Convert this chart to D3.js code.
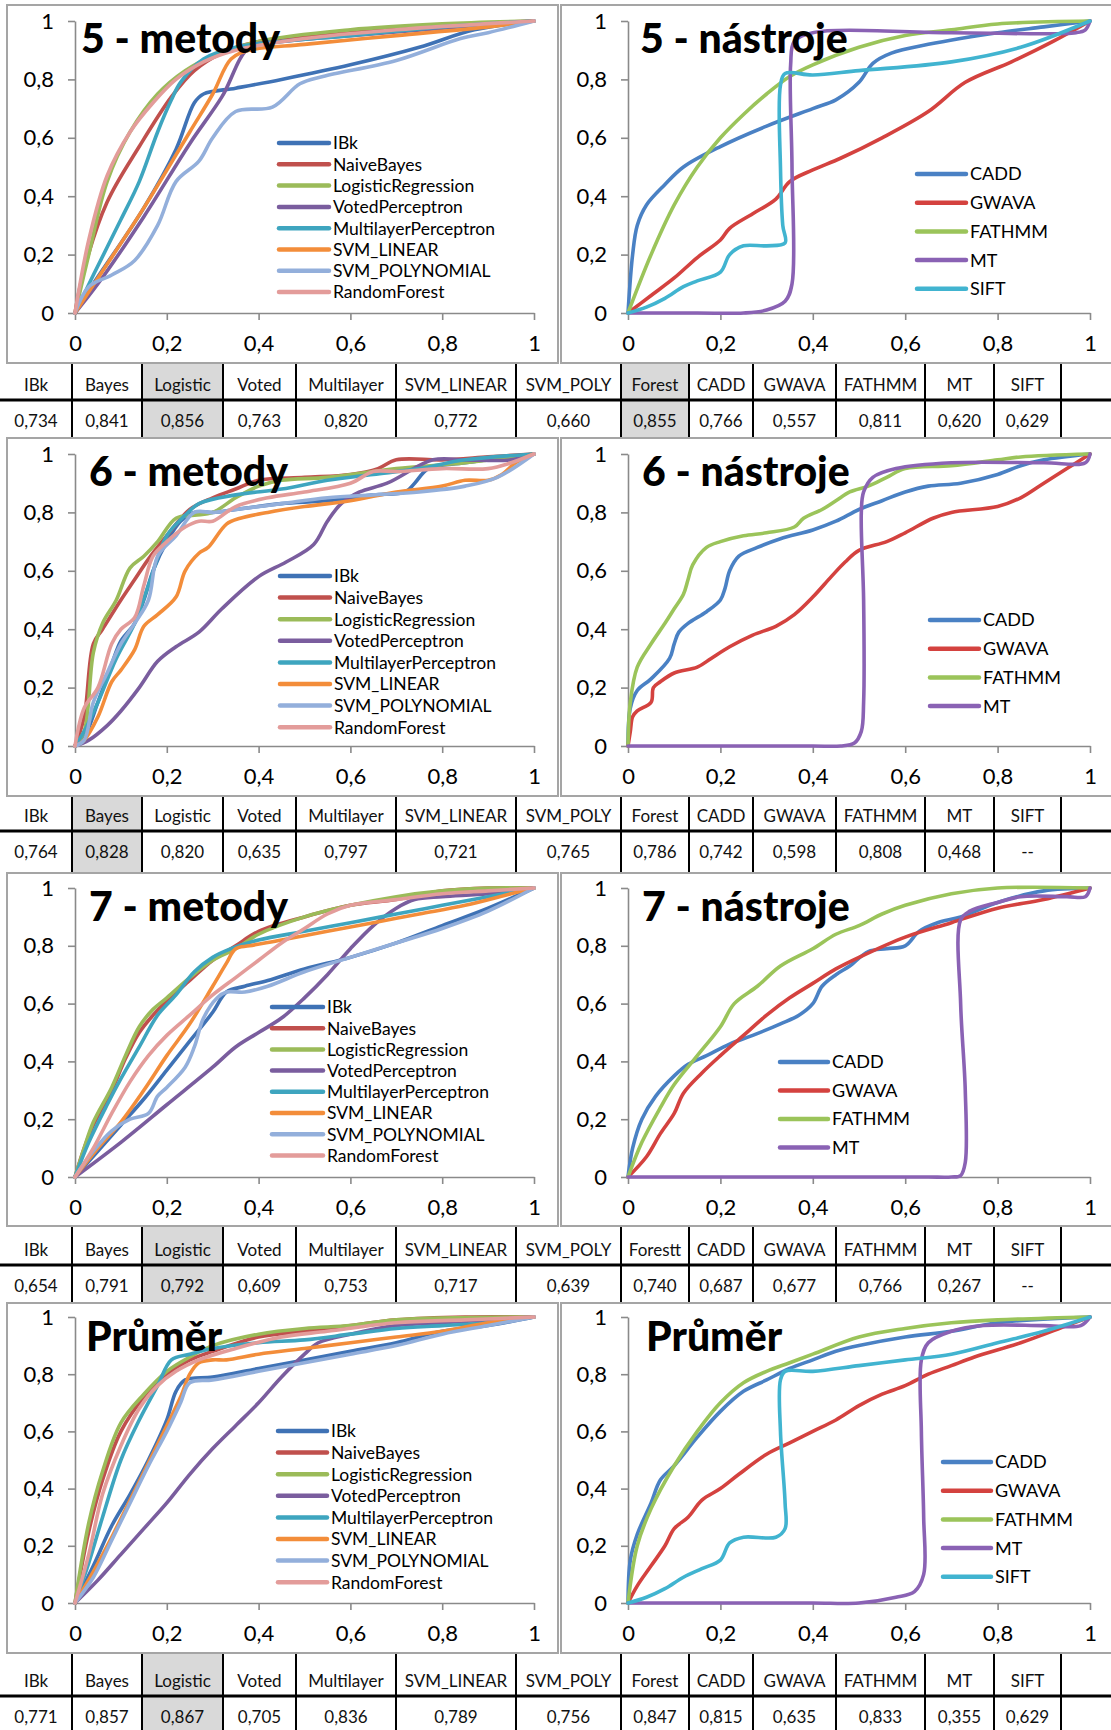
<!DOCTYPE html>
<html>
<head>
<meta charset="UTF-8">
<script src="https://d3js.org/d3.v7.min.js"></script>
<style>
  body { margin: 0; background: #fff; }
  svg { display: block; }
  text { font-family: Lato, "Open Sans", sans-serif; }
</style>
</head>
<body>
<svg id="canvas"></svg>
<script>

width = 1111;
height = 1730;

// ---- data ----
methodNames = ["IBk", "NaiveBayes", "LogisticRegression", "VotedPerceptron",
  "MultilayerPerceptron", "SVM_LINEAR", "SVM_POLYNOMIAL", "RandomForest"];
methodColors = ["#3f72b5", "#c0504d", "#9bbb59", "#7a5d9e", "#3ea5bf", "#f38d3a", "#93afdb", "#e39c9a"];
toolNames = ["CADD", "GWAVA", "FATHMM", "MT", "SIFT"];
toolColors = ["#4a81c4", "#d4423f", "#9bc45a", "#8a62b4", "#41b4d0"];

tickValues = [0, 0.2, 0.4, 0.6, 0.8, 1];
tickLabels = ["0", "0,2", "0,4", "0,6", "0,8", "1"];

// ROC curves [FPR, TPR]
m5 = [
  [[0,0],[0.04,0.1],[0.15,0.36],[0.22,0.56],[0.26,0.72],[0.28,0.75],[0.35,0.77],[0.45,0.8],[0.6,0.85],[0.75,0.91],[0.87,0.97],[1,1]],
  [[0,0],[0.02,0.15],[0.07,0.38],[0.14,0.57],[0.21,0.74],[0.26,0.83],[0.32,0.89],[0.4,0.93],[0.6,0.96],[0.8,0.985],[1,1]],
  [[0,0],[0.03,0.2],[0.07,0.45],[0.12,0.62],[0.18,0.75],[0.24,0.83],[0.3,0.88],[0.4,0.93],[0.6,0.97],[0.8,0.99],[1,1]],
  [[0,0],[0.05,0.1],[0.15,0.33],[0.25,0.58],[0.32,0.74],[0.38,0.91],[0.45,0.93],[0.6,0.95],[0.8,0.975],[1,1]],
  [[0,0],[0.04,0.13],[0.1,0.32],[0.14,0.45],[0.18,0.62],[0.21,0.73],[0.23,0.79],[0.28,0.87],[0.35,0.91],[0.45,0.93],[0.6,0.95],[0.8,0.98],[1,1]],
  [[0,0],[0.05,0.12],[0.15,0.36],[0.25,0.62],[0.3,0.75],[0.34,0.87],[0.38,0.9],[0.5,0.92],[0.7,0.95],[0.9,0.98],[1,1]],
  [[0,0],[0.03,0.09],[0.08,0.13],[0.13,0.18],[0.18,0.3],[0.22,0.45],[0.27,0.52],[0.3,0.6],[0.35,0.69],[0.43,0.705],[0.49,0.785],[0.54,0.81],[0.7,0.865],[0.84,0.94],[0.9,0.96],[1,1]],
  [[0,0],[0.03,0.25],[0.07,0.47],[0.12,0.62],[0.17,0.72],[0.22,0.8],[0.28,0.86],[0.35,0.9],[0.5,0.94],[0.7,0.97],[1,1]]
];
t5 = [
  [[0,0],[0.01,0.2],[0.02,0.3],[0.04,0.37],[0.08,0.44],[0.12,0.5],[0.2,0.57],[0.3,0.64],[0.4,0.7],[0.45,0.73],[0.5,0.79],[0.53,0.855],[0.57,0.89],[0.65,0.92],[0.8,0.96],[0.9,0.98],[1,1]],
  [[0,0],[0.05,0.06],[0.1,0.12],[0.15,0.19],[0.2,0.25],[0.22,0.29],[0.27,0.34],[0.32,0.39],[0.35,0.45],[0.4,0.49],[0.46,0.53],[0.55,0.6],[0.65,0.69],[0.73,0.79],[0.83,0.86],[0.92,0.93],[1,1]],
  [[0,0],[0.05,0.2],[0.1,0.37],[0.15,0.5],[0.2,0.6],[0.25,0.68],[0.3,0.75],[0.35,0.81],[0.4,0.85],[0.5,0.91],[0.6,0.95],[0.7,0.97],[0.8,0.99],[1,1]],
  [[0,0],[0.15,0],[0.25,0],[0.3,0.01],[0.34,0.04],[0.355,0.1],[0.355,0.5],[0.352,0.85],[0.36,0.93],[0.4,0.96],[0.7,0.96],[0.97,0.96],[0.99,0.97],[1,1]],
  [[0,0],[0.04,0.02],[0.08,0.05],[0.12,0.09],[0.15,0.11],[0.2,0.14],[0.22,0.2],[0.25,0.23],[0.3,0.23],[0.34,0.24],[0.335,0.3],[0.33,0.5],[0.33,0.78],[0.34,0.82],[0.4,0.815],[0.5,0.83],[0.7,0.86],[0.85,0.91],[1,1]]
];

m6 = [
  [[0,0],[0.02,0.03],[0.05,0.15],[0.08,0.28],[0.1,0.36],[0.13,0.42],[0.15,0.5],[0.17,0.6],[0.2,0.7],[0.23,0.77],[0.26,0.8],[0.3,0.8],[0.35,0.81],[0.45,0.83],[0.55,0.84],[0.65,0.86],[0.72,0.87],[0.74,0.9],[0.77,0.95],[0.85,0.97],[1,1]],
  [[0,0],[0.02,0.1],[0.04,0.35],[0.06,0.4],[0.1,0.5],[0.13,0.57],[0.16,0.64],[0.2,0.72],[0.25,0.81],[0.3,0.85],[0.35,0.88],[0.4,0.91],[0.5,0.92],[0.6,0.93],[0.66,0.95],[0.7,0.98],[0.8,0.98],[0.9,0.99],[1,1]],
  [[0,0],[0.02,0.05],[0.04,0.32],[0.06,0.42],[0.09,0.5],[0.12,0.61],[0.15,0.65],[0.18,0.7],[0.22,0.78],[0.26,0.79],[0.3,0.8],[0.35,0.85],[0.4,0.89],[0.45,0.91],[0.55,0.92],[0.7,0.95],[0.85,0.97],[1,1]],
  [[0,0],[0.03,0.02],[0.07,0.07],[0.1,0.12],[0.14,0.2],[0.18,0.29],[0.22,0.34],[0.27,0.39],[0.32,0.47],[0.4,0.58],[0.46,0.63],[0.52,0.69],[0.55,0.77],[0.58,0.83],[0.62,0.87],[0.68,0.9],[0.78,0.98],[0.85,0.98],[0.95,0.98],[1,1]],
  [[0,0],[0.02,0.05],[0.05,0.15],[0.09,0.3],[0.13,0.42],[0.16,0.55],[0.2,0.72],[0.24,0.79],[0.27,0.83],[0.35,0.86],[0.45,0.88],[0.55,0.91],[0.65,0.93],[0.75,0.95],[0.85,0.98],[1,1]],
  [[0,0],[0.02,0.02],[0.05,0.1],[0.08,0.22],[0.1,0.26],[0.13,0.33],[0.15,0.41],[0.18,0.45],[0.22,0.51],[0.24,0.6],[0.27,0.66],[0.29,0.68],[0.33,0.76],[0.36,0.78],[0.42,0.8],[0.5,0.82],[0.6,0.84],[0.7,0.87],[0.8,0.89],[0.85,0.91],[0.9,0.91],[0.93,0.93],[0.96,0.97],[1,1]],
  [[0,0],[0.02,0.02],[0.04,0.15],[0.07,0.25],[0.1,0.35],[0.13,0.42],[0.16,0.5],[0.18,0.65],[0.22,0.72],[0.26,0.8],[0.3,0.8],[0.35,0.81],[0.45,0.83],[0.55,0.85],[0.65,0.86],[0.75,0.87],[0.85,0.89],[0.92,0.92],[1,1]],
  [[0,0],[0.02,0.13],[0.05,0.2],[0.08,0.35],[0.1,0.4],[0.13,0.44],[0.15,0.55],[0.17,0.65],[0.2,0.7],[0.24,0.75],[0.27,0.77],[0.3,0.77],[0.35,0.82],[0.42,0.85],[0.5,0.87],[0.6,0.9],[0.65,0.94],[0.7,0.94],[0.8,0.95],[0.9,0.95],[0.95,0.97],[1,1]]
];
t6 = [
  [[0,0],[0.005,0.13],[0.02,0.19],[0.05,0.23],[0.09,0.3],[0.1,0.35],[0.11,0.39],[0.13,0.42],[0.17,0.46],[0.2,0.5],[0.21,0.54],[0.22,0.6],[0.24,0.65],[0.28,0.68],[0.33,0.71],[0.4,0.74],[0.45,0.77],[0.5,0.81],[0.55,0.84],[0.6,0.87],[0.65,0.89],[0.72,0.9],[0.8,0.93],[0.85,0.96],[0.9,0.98],[1,1]],
  [[0,0],[0.005,0.05],[0.01,0.1],[0.02,0.12],[0.05,0.15],[0.055,0.2],[0.07,0.22],[0.1,0.25],[0.15,0.27],[0.18,0.3],[0.22,0.34],[0.27,0.38],[0.32,0.41],[0.36,0.45],[0.4,0.51],[0.44,0.58],[0.47,0.63],[0.5,0.67],[0.56,0.7],[0.6,0.73],[0.66,0.78],[0.7,0.8],[0.8,0.82],[0.85,0.85],[0.9,0.9],[0.95,0.95],[1,1]],
  [[0,0],[0.005,0.15],[0.02,0.27],[0.05,0.35],[0.08,0.42],[0.1,0.47],[0.12,0.52],[0.13,0.57],[0.14,0.62],[0.17,0.68],[0.2,0.7],[0.25,0.72],[0.3,0.73],[0.36,0.75],[0.38,0.78],[0.42,0.81],[0.45,0.84],[0.48,0.87],[0.52,0.89],[0.56,0.92],[0.6,0.95],[0.7,0.96],[0.8,0.98],[0.85,0.99],[1,1]],
  [[0,0],[0.2,0],[0.4,0],[0.46,0],[0.49,0.01],[0.505,0.05],[0.51,0.15],[0.51,0.5],[0.505,0.8],[0.51,0.87],[0.53,0.92],[0.58,0.95],[0.7,0.97],[0.9,0.97],[0.99,0.97],[1,1]]
];

m7 = [
  [[0,0],[0.05,0.09],[0.1,0.18],[0.15,0.27],[0.2,0.37],[0.25,0.47],[0.3,0.57],[0.33,0.64],[0.37,0.66],[0.42,0.68],[0.5,0.72],[0.6,0.76],[0.7,0.81],[0.8,0.87],[0.9,0.93],[1,1]],
  [[0,0],[0.02,0.1],[0.04,0.18],[0.08,0.3],[0.11,0.41],[0.14,0.5],[0.17,0.56],[0.2,0.61],[0.25,0.68],[0.3,0.75],[0.35,0.8],[0.4,0.85],[0.5,0.9],[0.6,0.94],[0.7,0.96],[0.8,0.99],[0.9,1],[1,1]],
  [[0,0],[0.02,0.1],[0.04,0.19],[0.08,0.31],[0.11,0.42],[0.14,0.52],[0.17,0.58],[0.2,0.62],[0.25,0.69],[0.3,0.75],[0.35,0.79],[0.4,0.84],[0.5,0.9],[0.6,0.94],[0.7,0.97],[0.8,0.99],[0.9,1],[1,1]],
  [[0,0],[0.1,0.12],[0.2,0.25],[0.3,0.38],[0.35,0.45],[0.4,0.5],[0.45,0.55],[0.5,0.62],[0.55,0.7],[0.6,0.79],[0.65,0.87],[0.7,0.93],[0.74,0.96],[0.8,0.97],[0.9,0.98],[1,1]],
  [[0,0],[0.03,0.12],[0.07,0.25],[0.1,0.34],[0.14,0.45],[0.18,0.56],[0.22,0.63],[0.26,0.71],[0.3,0.76],[0.34,0.79],[0.4,0.82],[0.5,0.85],[0.6,0.88],[0.7,0.91],[0.8,0.94],[0.9,0.97],[1,1]],
  [[0,0],[0.05,0.1],[0.1,0.19],[0.15,0.3],[0.2,0.42],[0.25,0.53],[0.3,0.66],[0.33,0.74],[0.35,0.79],[0.38,0.8],[0.45,0.82],[0.55,0.85],[0.65,0.88],[0.75,0.91],[0.85,0.94],[0.95,0.98],[1,1]],
  [[0,0],[0.04,0.09],[0.08,0.16],[0.12,0.2],[0.16,0.22],[0.18,0.28],[0.2,0.31],[0.24,0.38],[0.26,0.45],[0.28,0.55],[0.31,0.62],[0.33,0.64],[0.37,0.64],[0.42,0.66],[0.5,0.71],[0.6,0.76],[0.7,0.81],[0.8,0.86],[0.9,0.92],[1,1]],
  [[0,0],[0.04,0.1],[0.08,0.22],[0.12,0.33],[0.16,0.42],[0.2,0.49],[0.25,0.56],[0.3,0.63],[0.35,0.69],[0.4,0.75],[0.45,0.81],[0.5,0.86],[0.55,0.91],[0.6,0.94],[0.7,0.96],[0.8,0.98],[0.9,0.99],[1,1]]
];
t7 = [
  [[0,0],[0.01,0.1],[0.03,0.2],[0.06,0.28],[0.1,0.35],[0.13,0.39],[0.17,0.42],[0.22,0.46],[0.27,0.49],[0.33,0.53],[0.37,0.56],[0.4,0.6],[0.42,0.66],[0.45,0.7],[0.48,0.73],[0.52,0.78],[0.56,0.79],[0.6,0.8],[0.63,0.85],[0.67,0.88],[0.72,0.9],[0.8,0.95],[0.9,0.99],[1,1]],
  [[0,0],[0.04,0.07],[0.07,0.15],[0.1,0.22],[0.12,0.29],[0.16,0.36],[0.2,0.42],[0.25,0.49],[0.3,0.56],[0.35,0.62],[0.4,0.67],[0.45,0.72],[0.5,0.76],[0.6,0.83],[0.7,0.88],[0.8,0.93],[0.9,0.96],[1,1]],
  [[0,0],[0.03,0.12],[0.07,0.24],[0.1,0.32],[0.15,0.42],[0.2,0.52],[0.23,0.6],[0.28,0.66],[0.33,0.73],[0.4,0.79],[0.45,0.84],[0.5,0.87],[0.55,0.91],[0.6,0.94],[0.7,0.98],[0.8,1],[1,1]],
  [[0,0],[0.3,0],[0.55,0],[0.65,0],[0.7,0],[0.72,0.005],[0.73,0.05],[0.73,0.3],[0.72,0.6],[0.72,0.89],[0.74,0.92],[0.8,0.95],[0.85,0.97],[0.95,0.97],[0.99,0.97],[1,1]]
];

mAvg = [
  [[0,0],[0.04,0.13],[0.08,0.27],[0.12,0.38],[0.16,0.5],[0.2,0.64],[0.22,0.74],[0.24,0.78],[0.3,0.79],[0.4,0.82],[0.5,0.85],[0.6,0.88],[0.7,0.91],[0.8,0.95],[0.9,0.97],[1,1]],
  [[0,0],[0.03,0.25],[0.06,0.43],[0.1,0.6],[0.15,0.72],[0.2,0.8],[0.25,0.85],[0.3,0.88],[0.4,0.93],[0.5,0.95],[0.6,0.97],[0.7,0.99],[0.85,1],[1,1]],
  [[0,0],[0.03,0.28],[0.06,0.46],[0.1,0.63],[0.15,0.73],[0.2,0.81],[0.25,0.86],[0.3,0.9],[0.4,0.94],[0.5,0.96],[0.6,0.97],[0.7,0.99],[1,1]],
  [[0,0],[0.05,0.08],[0.1,0.17],[0.15,0.26],[0.2,0.35],[0.25,0.45],[0.3,0.54],[0.35,0.62],[0.4,0.7],[0.45,0.79],[0.5,0.87],[0.53,0.91],[0.6,0.94],[0.7,0.97],[0.8,0.98],[1,1]],
  [[0,0],[0.03,0.14],[0.06,0.3],[0.1,0.5],[0.14,0.64],[0.18,0.76],[0.21,0.85],[0.25,0.87],[0.3,0.89],[0.4,0.91],[0.5,0.92],[0.6,0.94],[0.7,0.96],[0.8,0.97],[0.9,0.98],[1,1]],
  [[0,0],[0.04,0.11],[0.08,0.23],[0.12,0.36],[0.16,0.49],[0.2,0.62],[0.23,0.72],[0.25,0.8],[0.27,0.84],[0.3,0.85],[0.33,0.85],[0.4,0.87],[0.5,0.89],[0.6,0.91],[0.7,0.93],[0.8,0.95],[0.9,0.98],[1,1]],
  [[0,0],[0.04,0.09],[0.08,0.22],[0.12,0.35],[0.16,0.48],[0.2,0.6],[0.23,0.7],[0.25,0.77],[0.3,0.78],[0.4,0.81],[0.5,0.84],[0.6,0.87],[0.7,0.9],[0.8,0.94],[0.9,0.97],[1,1]],
  [[0,0],[0.03,0.17],[0.06,0.38],[0.1,0.55],[0.14,0.68],[0.18,0.76],[0.22,0.81],[0.27,0.85],[0.35,0.89],[0.45,0.93],[0.55,0.95],[0.7,0.98],[0.85,0.99],[1,1]]
];
tAvg = [
  [[0,0],[0.005,0.15],[0.02,0.24],[0.05,0.35],[0.07,0.43],[0.1,0.48],[0.15,0.58],[0.2,0.67],[0.25,0.74],[0.3,0.78],[0.35,0.82],[0.4,0.85],[0.45,0.88],[0.5,0.9],[0.6,0.93],[0.7,0.95],[0.8,0.98],[1,1]],
  [[0,0],[0.02,0.06],[0.05,0.13],[0.08,0.2],[0.1,0.26],[0.13,0.3],[0.16,0.36],[0.2,0.4],[0.24,0.45],[0.3,0.52],[0.35,0.56],[0.4,0.6],[0.45,0.64],[0.5,0.69],[0.55,0.73],[0.6,0.76],[0.65,0.8],[0.7,0.83],[0.75,0.86],[0.85,0.91],[0.95,0.97],[1,1]],
  [[0,0],[0.02,0.2],[0.05,0.33],[0.1,0.48],[0.15,0.6],[0.2,0.7],[0.25,0.77],[0.3,0.81],[0.35,0.84],[0.4,0.87],[0.5,0.93],[0.6,0.96],[0.7,0.98],[0.8,0.99],[1,1]],
  [[0,0],[0.2,0],[0.4,0],[0.5,0],[0.58,0.02],[0.62,0.04],[0.64,0.1],[0.64,0.3],[0.635,0.6],[0.635,0.85],[0.65,0.91],[0.7,0.95],[0.77,0.97],[0.9,0.97],[0.98,0.97],[1,1]],
  [[0,0],[0.04,0.02],[0.08,0.05],[0.12,0.09],[0.16,0.12],[0.2,0.15],[0.22,0.21],[0.25,0.23],[0.32,0.23],[0.34,0.26],[0.34,0.35],[0.33,0.6],[0.33,0.78],[0.34,0.81],[0.4,0.81],[0.5,0.83],[0.6,0.85],[0.7,0.87],[0.8,0.91],[0.9,0.95],[1,1]]
];

// AUC tables
headers = ["IBk", "Bayes", "Logistic", "Voted", "Multilayer", "SVM_LINEAR", "SVM_POLY",
  "Forest", "CADD", "GWAVA", "FATHMM", "MT", "SIFT", ""];
headers7 = ["IBk", "Bayes", "Logistic", "Voted", "Multilayer", "SVM_LINEAR", "SVM_POLY",
  "Forestt", "CADD", "GWAVA", "FATHMM", "MT", "SIFT", ""];
auc5 = ["0,734", "0,841", "0,856", "0,763", "0,820", "0,772", "0,660", "0,855", "0,766", "0,557", "0,811", "0,620", "0,629", ""];
auc6 = ["0,764", "0,828", "0,820", "0,635", "0,797", "0,721", "0,765", "0,786", "0,742", "0,598", "0,808", "0,468", "--", ""];
auc7 = ["0,654", "0,791", "0,792", "0,609", "0,753", "0,717", "0,639", "0,740", "0,687", "0,677", "0,766", "0,267", "--", ""];
aucAvg = ["0,771", "0,857", "0,867", "0,705", "0,836", "0,789", "0,756", "0,847", "0,815", "0,635", "0,833", "0,355", "0,629", ""];

// ---- layout ----
rowTops = [5, 438, 873, 1303];
rowBottoms = [363, 796, 1226, 1653];
plotYs = [[21, 313], [454, 746], [888, 1177], [1317, 1603]];
sides = [{frame: [7, 558], plot: [75, 534]}, {frame: [561, 1114], plot: [628, 1090]}];
tableY = [385, 816, 1250, 1681];
colEdges = [0, 72, 142, 223, 296, 396, 516, 621, 689, 753, 836, 925, 994, 1061, 1111];

panels = [
  {title: "5 - metody", row: 0, side: 0, tx: 81, curves: m5, names: methodNames, colors: methodColors, lg: {x0: 279, x1: 329, y: 143, step: 21.3, fs: 17.5}},
  {title: "5 - nástroje", row: 0, side: 1, tx: 640, curves: t5, names: toolNames, colors: toolColors, lg: {x0: 917, x1: 966, y: 174, step: 28.7, fs: 18}},
  {title: "6 - metody", row: 1, side: 0, tx: 89, curves: m6, names: methodNames, colors: methodColors, lg: {x0: 280, x1: 330, y: 576, step: 21.6, fs: 17.5}},
  {title: "6 - nástroje", row: 1, side: 1, tx: 642, curves: t6, names: toolNames, colors: toolColors, lg: {x0: 930, x1: 979, y: 620, step: 28.7, fs: 18}},
  {title: "7 - metody", row: 2, side: 0, tx: 89, curves: m7, names: methodNames, colors: methodColors, lg: {x0: 272, x1: 323, y: 1007, step: 21.2, fs: 17.5}},
  {title: "7 - nástroje", row: 2, side: 1, tx: 642, curves: t7, names: toolNames, colors: toolColors, lg: {x0: 780, x1: 828, y: 1062, step: 28.5, fs: 18}},
  {title: "Průměr", row: 3, side: 0, tx: 86, curves: mAvg, names: methodNames, colors: methodColors, lg: {x0: 278, x1: 327, y: 1431, step: 21.6, fs: 17.5}},
  {title: "Průměr", row: 3, side: 1, tx: 646, curves: tAvg, names: toolNames, colors: toolColors, lg: {x0: 943, x1: 991, y: 1462, step: 28.7, fs: 18}}
];

tables = [
  {row: 0, heads: headers, vals: auc5, hi: [2, 7]},
  {row: 1, heads: headers, vals: auc6, hi: [1]},
  {row: 2, heads: headers7, vals: auc7, hi: [2]},
  {row: 3, heads: headers, vals: aucAvg, hi: [2]}
];

canvas = d3.select("#canvas")
  .attr("width", width)
  .attr("height", height);

canvas.append("rect")
  .attr("width", width)
  .attr("height", height)
  .attr("fill", "#fff");

function drawPanel(p) {
  const s = sides[p.side];
  const top = rowTops[p.row], bottom = rowBottoms[p.row];
  const g = canvas.append("g");

  g.append("rect")
    .attr("x", s.frame[0]).attr("y", top)
    .attr("width", s.frame[1] - s.frame[0]).attr("height", bottom - top)
    .attr("fill", "#fff").attr("stroke", "#a5a5a5").attr("stroke-width", 2);

  const x = d3.scaleLinear().domain([0, 1]).range(s.plot);
  const y = d3.scaleLinear().domain([0, 1]).range([plotYs[p.row][1], plotYs[p.row][0]]);

  const xAxis = g.append("g")
    .attr("transform", "translate(0," + y(0) + ")")
    .call(d3.axisBottom(x).tickValues(tickValues).tickFormat((d, i) => tickLabels[i])
      .tickSize(7).tickSizeOuter(0).tickPadding(15));
  const yAxis = g.append("g")
    .attr("transform", "translate(" + x(0) + ",0)")
    .call(d3.axisLeft(y).tickValues(tickValues).tickFormat((d, i) => tickLabels[i])
      .tickSize(7).tickSizeOuter(0).tickPadding(14));

  [xAxis, yAxis].forEach(a => {
    a.selectAll("path, line").attr("stroke", "#8a8a8a").attr("stroke-width", 1.6);
    a.selectAll("text").attr("font-size", 22).attr("fill", "#000")
      .attr("font-family", "Lato, 'Open Sans', sans-serif");
  });

  const line = d3.line()
    .x(d => x(d[0]))
    .y(d => y(d[1]))
    .curve(d3.curveCatmullRom.alpha(0.5));

  p.curves.forEach((c, i) => {
    g.append("path")
      .attr("d", line(c))
      .attr("fill", "none")
      .attr("stroke", p.colors[i])
      .attr("stroke-width", 3.6)
      .attr("stroke-linejoin", "round")
      .attr("stroke-linecap", "round");
  });

  // legend: only the series that are drawn in this panel
  p.names.slice(0, p.curves.length).forEach((n, i) => {
    const ly = p.lg.y + i * p.lg.step;
    g.append("line")
      .attr("x1", p.lg.x0).attr("x2", p.lg.x1)
      .attr("y1", ly).attr("y2", ly)
      .attr("stroke", p.colors[i]).attr("stroke-width", 4.5)
      .attr("stroke-linecap", "round");
    g.append("text")
      .attr("x", p.lg.x1 + 4).attr("y", ly).attr("dy", "0.36em")
      .attr("font-size", p.lg.fs).attr("fill", "#000")
      .text(n);
  });

  g.append("text")
    .attr("x", p.tx).attr("y", top + 48)
    .attr("font-size", 41).attr("font-weight", 900).attr("fill", "#000")
    .text(p.title);
}

function drawTable(t) {
  const g = canvas.append("g");
  const y0 = rowBottoms[t.row] + 1;
  const y1 = t.row < 3 ? rowTops[t.row + 1] - 1 : height;
  const hy = tableY[t.row];

  t.hi.forEach(i => {
    g.append("rect")
      .attr("x", colEdges[i] + 1).attr("y", y0)
      .attr("width", colEdges[i + 1] - colEdges[i] - 2).attr("height", y1 - y0)
      .attr("fill", "#d9d9d9");
  });

  g.append("line")
    .attr("x1", 0).attr("x2", width)
    .attr("y1", hy + 15).attr("y2", hy + 15)
    .attr("stroke", "#000").attr("stroke-width", 3);

  colEdges.slice(1, -1).forEach(cx => {
    g.append("line")
      .attr("x1", cx).attr("x2", cx)
      .attr("y1", y0).attr("y2", y1)
      .attr("stroke", "#000").attr("stroke-width", 2);
  });

  t.heads.forEach((h, i) => {
    const cx = (colEdges[i] + colEdges[i + 1]) / 2;
    g.append("text")
      .attr("x", cx).attr("y", hy).attr("dy", "0.36em")
      .attr("text-anchor", "middle").attr("font-size", 17).attr("fill", "#111")
      .text(h);
    g.append("text")
      .attr("x", cx).attr("y", hy + 36).attr("dy", "0.36em")
      .attr("text-anchor", "middle").attr("font-size", 17).attr("fill", "#111")
      .text(t.vals[i]);
  });
}

panels.forEach(drawPanel);
tables.forEach(drawTable);

</script>
</body>
</html>
